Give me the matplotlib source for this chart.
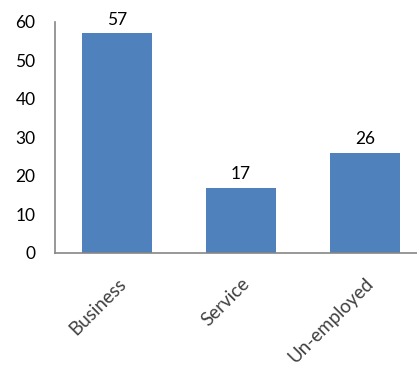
import matplotlib.pyplot as plt

categories = ['Business', 'Service', 'Un-employed']
values = [57, 17, 26]
yticks = [0, 10, 20, 30, 40, 50, 60]

plt.rcParams['font.family'] = ['Lato', 'DejaVu Sans']

fig = plt.figure(figsize=(4.17, 3.72), dpi=100)
ax = fig.add_axes([0.132, 0.320, 0.892, 0.621])

x = range(len(categories))
bars = ax.bar(x, values, width=0.565, color='#4F81BD')

for xi, v in zip(x, values):
    ax.text(xi, v + 1.5, str(v), ha='center', va='bottom', fontsize=12.5, color='black')

ax.set_xlim(-0.5, 2.5)
ax.set_ylim(0, 60)
ax.set_yticks(yticks)
ax.set_xticks(list(x))
ax.set_xticklabels(categories, rotation=45, ha='right', rotation_mode='anchor',
                   fontsize=13.5, color='#404040')
ax.tick_params(axis='y', labelsize=12.5, length=0, pad=14, labelcolor='black')
ax.tick_params(axis='x', length=0, pad=16)

for s in ['top', 'right']:
    ax.spines[s].set_visible(False)
for s in ['left', 'bottom']:
    ax.spines[s].set_color('#868686')
    ax.spines[s].set_linewidth(1.2)

plt.savefig('out.png', dpi=100)
